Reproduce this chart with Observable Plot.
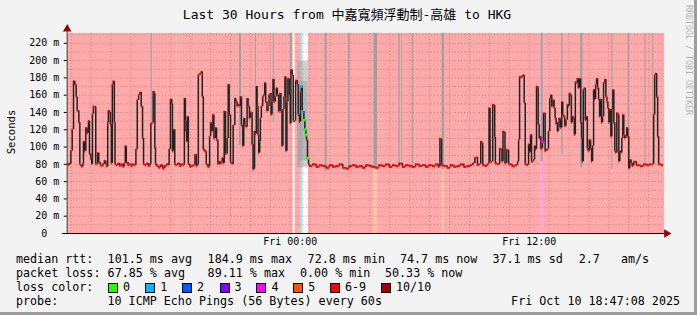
<!DOCTYPE html>
<html><head><meta charset="utf-8">
<script src="https://cdn.jsdelivr.net/npm/d3@7"></script>
<script src="https://cdn.jsdelivr.net/npm/@observablehq/plot@0.6"></script>
<style>
html,body{margin:0;padding:0;background:#f3f3f3}
#wrap{position:relative;width:697px;height:315px;background:#f3f3f3;overflow:hidden;box-sizing:border-box;border-right:3px solid #9c9c9c;border-bottom:3px solid #9c9c9c;font-family:"DejaVu Sans Mono","Noto Sans CJK TC",monospace;color:#000}
#wrap .t{position:absolute;white-space:pre;line-height:14px}
#wrap svg{position:absolute;left:0;top:0}
.box{position:absolute;width:8px;height:8px;border:1px solid #000}
</style></head><body><div id="wrap"></div>
<script>
// ---- data (minutes since Thu 12:48, median RTT in ms) ----
const minutes = [0,3,6,9,11,15,19,23,27,30,35,38,40,44,47,49,52,56,60,64,67,71,74,76,79,84,86,89,92,95,100,104,108,112,116,120,122,124,127,130,133,136,139,142,144,148,153,158,163,168,172,175,178,183,188,193,198,203,207,211,215,219,223,227,230,234,240,245,250,252,256,259,262,264,266,270,276,282,288,294,300,305,307,311,315,317,321,324,327,333,339,345,350,353,356,358,360,362,365,370,375,380,385,389,393,395,400,404,407,410,414,419,424,429,432,436,439,442,447,450,454,457,460,463,467,470,473,475,477,482,485,488,492,497,500,503,505,508,512,515,520,522,525,529,532,535,539,542,545,549,552,557,560,564,567,570,572,575,577,580,582,585,589,592,595,598,602,605,608,612,614,617,620,623,627,630,633,637,641,644,647,650,653,656,659,662,665,669,672,674,678,681,688,693,696,700,703,705,708,713,716,719,721,724,727,730,740,750,760,770,780,790,800,810,820,830,840,850,860,870,880,890,900,910,920,930,940,950,960,970,980,990,1000,1010,1020,1030,1040,1050,1060,1070,1080,1090,1100,1110,1118,1123,1126,1128,1135,1145,1155,1165,1175,1185,1195,1205,1215,1222,1228,1232,1236,1242,1246,1249,1252,1260,1266,1271,1274,1278,1282,1285,1288,1290,1298,1303,1307,1310,1313,1316,1319,1324,1327,1330,1340,1350,1357,1360,1363,1367,1370,1375,1377,1380,1386,1390,1393,1396,1399,1402,1405,1408,1411,1414,1417,1419,1422,1425,1427,1432,1435,1440,1444,1450,1454,1457,1460,1464,1467,1470,1473,1475,1477,1480,1482,1485,1487,1490,1493,1496,1499,1503,1507,1510,1513,1516,1519,1522,1525,1528,1531,1534,1537,1540,1543,1547,1550,1552,1555,1558,1561,1564,1567,1570,1573,1577,1580,1583,1586,1589,1592,1595,1598,1601,1604,1607,1610,1613,1616,1620,1623,1626,1629,1632,1635,1638,1641,1644,1647,1650,1653,1656,1659,1662,1665,1668,1671,1674,1677,1680,1683,1686,1689,1692,1695,1699,1702,1707,1715,1727,1737,1747,1755,1762,1767,1770,1773,1776,1779,1782,1790,1797];
const rttMs = [80,79,81,80,95,120,176,172,158,142,128,80,79,77,80,106,95,122,116,130,92,86,80,138,147,146,80,80,93,82,79,78,80,84,80,77,128,142,140,126,81,172,176,128,80,79,81,78,80,77,81,101,82,79,80,78,80,79,97,154,160,163,147,110,80,79,81,78,80,127,128,164,162,99,80,78,76,79,75,78,80,79,97,155,150,95,120,80,79,81,78,80,79,156,130,118,106,135,80,77,78,79,91,78,80,183,185,187,158,97,95,80,77,112,128,118,137,110,122,108,80,83,80,83,87,81,141,141,92,110,172,137,82,80,125,125,156,152,147,149,147,158,125,101,133,125,123,156,147,133,140,103,74,118,115,170,147,114,93,106,133,147,158,160,174,152,141,147,160,162,137,152,178,152,158,168,160,141,162,141,101,143,158,181,95,152,179,160,127,189,183,130,177,172,137,129,164,170,141,131,120,114,108,87,80,78,80,77,79,78,76,79,77,78,80,76,75,78,79,77,78,76,79,78,77,76,79,78,80,77,79,78,81,77,79,78,77,80,78,79,77,79,78,80,77,110,109,79,78,76,79,77,78,80,77,78,79,81,87,88,79,80,106,104,79,78,80,145,83,83,149,148,111,81,80,98,97,83,118,117,81,97,96,80,78,79,83,108,181,180,182,183,151,80,79,103,94,114,83,83,85,101,97,170,169,126,110,112,98,106,139,95,97,118,156,160,147,154,145,133,126,128,118,122,133,131,122,152,137,135,124,131,149,147,162,160,128,135,133,114,175,174,179,168,179,128,110,83,166,168,131,135,98,95,108,98,83,101,166,155,172,179,168,155,135,155,128,135,174,178,158,152,145,128,143,112,143,166,128,95,93,139,137,83,95,93,110,137,114,110,112,122,112,75,85,81,78,83,79,78,80,79,80,80,137,183,185,158,112,80,79,79];
// median samples whose loss class differs from 6-9
const lossMarkMinutes = [705,708,713,716,719,724,1432];
const lossMarkClass = ["1","1","0","0","0","0","4"];
// loss background bands (everything else is 6-9)
const bandStart = [329,681,704,711,924,1130,1428];
const bandEnd   = [331,687,711,727,935,1137,1434];
const bandClass = ["5","0","1","0","5","5","4"];
// smoke reaching the top of the graph
const smokeStart = [253,519,567,621,672,777,847,924,999,1008,1040,1130,1428,1490,1547,1641,1690,1741,1764];
const smokeEnd   = [256,525,570,624,678,783,852,935,1003,1010,1044,1137,1434,1494,1554,1644,1695,1744,1767];
const smokeLow   = [129,102,76,129,191,72,76,74,74,83,78,74,83,91,76,74,74,76,76];
// big smoke cloud after midnight
const cloudStart = [694,699];
const cloudEnd = [728,726];
const cloudLow = [76,84];
const cloudHigh = [199,176];
const yTicks = [0,20,40,60,80,100,120,140,160,180,200,220];
const xTickMinutes = [672,1392];
const xTickLabels = ["Fri 00:00","Fri 12:00"];
const lossClasses = ["0","1","2","3","4","5","6-9","10/10"];
const lossColors = ["#26ff00","#00b8ff","#0059ff","#7e00ff","#ff00ff","#ff5500","#ff0000","#a10000"];
const titleText = "Last 30 Hours from 中嘉寬頻浮動制-高雄 to HKG";
const rttItems = ["101.5 ms avg","184.9 ms max","72.8 ms min","74.7 ms now","37.1 ms sd","2.7","am/s"];
const lossItems = ["67.85 % avg","89.11 % max","0.00 % min","50.33 % now"];
const probeText = "10 ICMP Echo Pings (56 Bytes) every 60s";
const dateText = "Fri Oct 10 18:47:08 2025";

const T0 = 0, T1 = 1800, yMax = 231.5;
const colorOf = Object.fromEntries(lossClasses.map((c,i)=>[c,lossColors[i]]));
const shade = c => c === "0" ? "#ffffff" : d3.interpolateRgb("#ffffff", colorOf[c])(1/3);
const rows = minutes.map((t,i)=>({t, v: rttMs[i]}));
const jumps = rows.slice(1).map((d,i)=>({t: d.t, a: rows[i].v, b: d.v}));
const flats = rows.slice(0,-1).map((d,i)=>({t1: d.t, t2: rows[i+1].t, v: d.v}));
const bands = bandStart.map((s,i)=>({s, e: bandEnd[i], c: bandClass[i]}));
const smoke = smokeStart.map((s,i)=>({s, e: smokeEnd[i], lo: smokeLow[i]}));
const cloud = cloudStart.map((s,i)=>({s, e: cloudEnd[i], lo: cloudLow[i], hi: cloudHigh[i]}));
const marks = lossMarkMinutes.map((t,i)=>({t, v: rttMs[minutes.indexOf(t)], c: lossMarkClass[i]}));
const hours = d3.range(12, T1, 60);
const yGrid = d3.range(10, yMax, 10);

const chart = Plot.plot({
  width: 697, height: 250,
  marginLeft: 67, marginRight: 30, marginTop: 33, marginBottom: 16,
  x: {domain: [T0, T1]},
  y: {domain: [0, yMax]},
  style: {background: "transparent", fontFamily: "DejaVu Sans Mono", fontSize: "10px", color: "#000", overflow: "visible"},
  marks: [
    Plot.rect([0], {x1: T0, x2: T1, y1: 0, y2: yMax, fill: shade("6-9")}),
    Plot.rect(bands, {x1: "s", x2: "e", y1: 0, y2: yMax, fill: d => shade(d.c)}),
    Plot.ruleY(yGrid, {stroke: "#b85050", strokeOpacity: 0.5, strokeDasharray: "1,2"}),
    Plot.ruleX(hours, {stroke: "#b85050", strokeOpacity: 0.5, strokeDasharray: "1,2"}),
    Plot.rect(cloud, {x1: "s", x2: "e", y1: "lo", y2: "hi", fill: "#9a9a9a", fillOpacity: 0.45}),
    Plot.rect(smoke, {x1: "s", x2: "e", y1: "lo", y2: yMax, fill: "#a0a0a0"}),
    Plot.ruleX(jumps, {x: "t", y1: "a", y2: "b", stroke: "#222", strokeWidth: 1.5}),
    Plot.ruleY(flats, {x1: "t1", x2: "t2", y: "v", stroke: colorOf["6-9"], strokeWidth: 2}),
    Plot.dot(marks, {x: "t", y: "v", symbol: "square", r: 1.6, fill: d => colorOf[d.c], stroke: null}),
    Plot.ruleY([0], {x1: -15, x2: T1 + 4, stroke: "#000"}),
    Plot.ruleX([T0], {y1: 0, y2: yMax + 6, stroke: "#444"}),
    Plot.dot([0], {x: T0, y: yMax + 5, symbol: "triangle", r: 3.2, fill: "#900", stroke: null}),
    Plot.dot([0], {x: T1 + 6, y: 0, symbol: "triangle", rotate: 90, r: 3.2, fill: "#900", stroke: null}),
    Plot.axisY(yTicks, {tickSize: 3, tickPadding: 5, tickFormat: d => d === 0 ? "0\u00a0\u00a0" : d + " m", fontSize: 10}),
    Plot.axisX(xTickMinutes, {tickSize: 0, tickPadding: 4, tickFormat: d => xTickLabels[xTickMinutes.indexOf(d)], fontSize: 10})
  ]
});

const wrap = document.getElementById("wrap");
wrap.appendChild(chart);
function addText(txt, css) {
  const el = document.createElement("div");
  el.className = "t"; el.textContent = txt;
  Object.assign(el.style, css);
  wrap.appendChild(el);
  return el;
}
addText(titleText, {left: "0px", width: "694px", top: "8px", textAlign: "center", fontSize: "13px"});
addText("Seconds", {left: "11px", top: "132px", fontSize: "10.6px", transform: "translate(-50%,-50%) rotate(-90deg)"});
addText("RRDTOOL / TOBI OETIKER", {left: "684px", top: "5px", fontSize: "8.3px", color: "#b4b4b4", writingMode: "vertical-rl", lineHeight: "9px"});
const LF = "11.7px";
addText("median rtt:", {left: "16px", top: "252px", fontSize: LF});
const rttX = [107.6,207.6,307.6,400,492.4,578.7,621];
rttItems.forEach((s,i)=>addText(s, {left: rttX[i] + "px", top: "252px", fontSize: LF}));
addText("packet loss:", {left: "16px", top: "266px", fontSize: LF});
const lossX = [107.6,207.6,300,385];
lossItems.forEach((s,i)=>addText(s, {left: lossX[i] + "px", top: "266px", fontSize: LF}));
addText("loss color:", {left: "16px", top: "280px", fontSize: LF});
const boxX = [108,145.3,182,219.6,256.4,293.3,330,381];
lossClasses.forEach((c,i)=>{
  const b = document.createElement("div");
  b.className = "box";
  Object.assign(b.style, {left: boxX[i] + "px", top: "283px", background: lossColors[i]});
  wrap.appendChild(b);
  addText(c, {left: (boxX[i] + 15) + "px", top: "280px", fontSize: LF});
});
addText("probe:", {left: "16px", top: "294px", fontSize: LF});
addText(probeText, {left: "107.5px", top: "294px", fontSize: LF});
addText(dateText, {right: "14px", top: "294px", fontSize: LF});
</script></body></html>
